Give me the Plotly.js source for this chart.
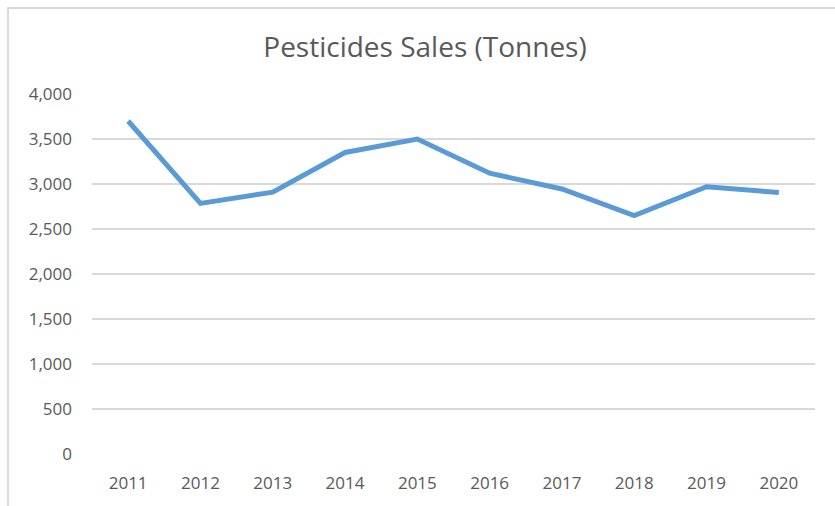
<!DOCTYPE html>
<html>
<head>
<meta charset="utf-8">
<script src="https://cdn.plot.ly/plotly-3.0.1.min.js"></script>
<style>
  html, body { margin: 0; padding: 0; background: #ffffff; }
  #wrap { position: relative; width: 835px; height: 506px; overflow: hidden; }
  #frame { position: absolute; left: 7px; top: 7px; width: 840px; height: 520px;
           border-top: 2px solid #d9d9d9; border-left: 2px solid #d9d9d9; box-sizing: border-box; }
  #chart { position: absolute; left: 0; top: 0; width: 835px; height: 506px; }
</style>
</head>
<body>
<div id="wrap">
  <div id="chart"></div>
  <div id="frame"></div>
</div>
<script>
const years = ["2011", "2012", "2013", "2014", "2015", "2016", "2017", "2018", "2019", "2020"];
const sales = [3700, 2785, 2910, 3350, 3500, 3120, 2945, 2650, 2970, 2905];
const yTicks = [0, 500, 1000, 1500, 2000, 2500, 3000, 3500, 4000];
const chartTitle = "Pesticides Sales (Tonnes)";

const FONT = "Open Sans, Noto Sans, sans-serif";
const GREY = "#595959";

const trace = {
  x: years,
  y: sales,
  type: "scatter",
  mode: "lines",
  line: { color: "#5b9bd5", width: 5, shape: "linear" },
  hoverinfo: "x+y"
};

const layout = {
  width: 835,
  height: 506,
  margin: { l: 92, r: 20, t: 94, b: 52, pad: 0 },
  paper_bgcolor: "rgba(0,0,0,0)",
  plot_bgcolor: "#ffffff",
  showlegend: false,
  title: {
    text: chartTitle,
    font: { family: FONT, size: 28, color: GREY },
    x: 425 / 835, xref: "container", xanchor: "center",
    y: 1 - 47 / 506, yref: "container", yanchor: "middle"
  },
  xaxis: {
    type: "category",
    range: [-0.5, years.length - 0.5],
    tickvals: years,
    ticktext: years,
    showgrid: false,
    showline: false,
    zeroline: false,
    ticks: "",
    ticklabelstandoff: 17,
    tickfont: { family: FONT, size: 17, color: GREY },
    fixedrange: true
  },
  yaxis: {
    range: [0, 4000],
    tickvals: yTicks,
    ticktext: yTicks.map(v => v.toLocaleString("en-US")),
    showgrid: true,
    gridcolor: "#d9d9d9",
    gridwidth: 1.5,
    zeroline: false,
    showline: false,
    ticks: "",
    ticklabelstandoff: 19,
    tickfont: { family: FONT, size: 17, color: GREY },
    fixedrange: true
  }
};

Plotly.newPlot("chart", [trace], layout, { displayModeBar: false, staticPlot: true });
</script>
</body>
</html>
